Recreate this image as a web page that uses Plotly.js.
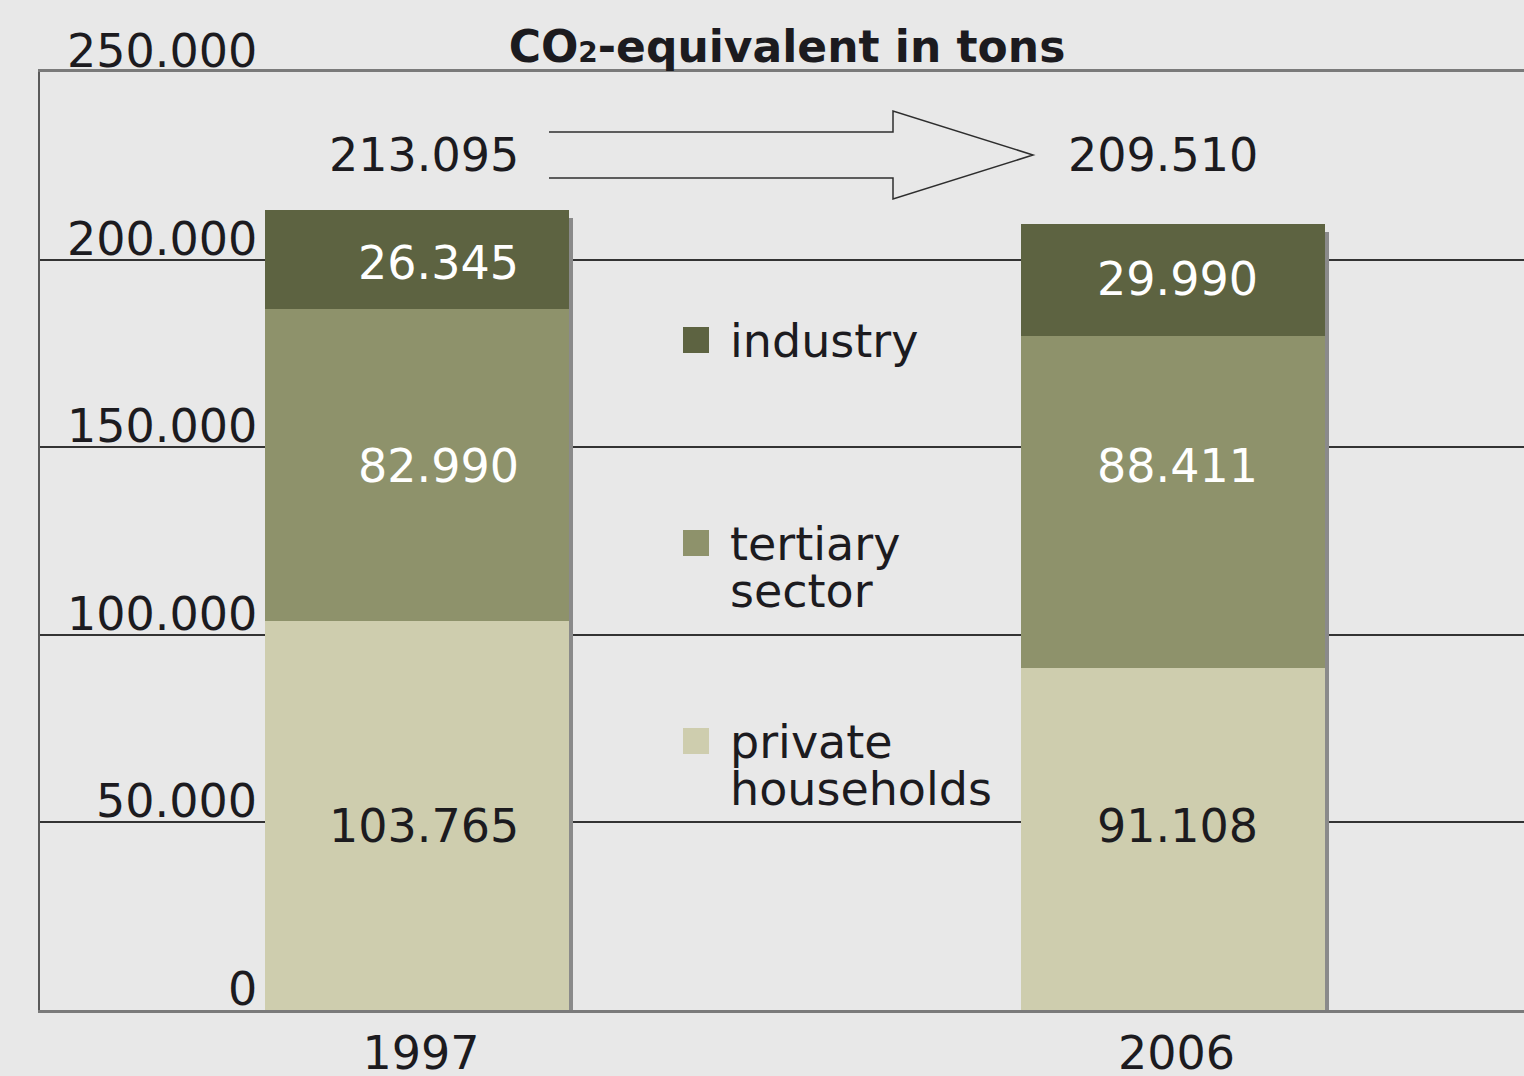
<!DOCTYPE html>
<html>
<head>
<meta charset="utf-8">
<script src="https://cdn.plot.ly/plotly-3.0.1.min.js"></script>
<style>
  html, body { margin: 0; padding: 0; background: #e8e8e8; }
  #chart { width: 1524px; height: 1076px; }
</style>
</head>
<body>
<div id="chart"></div>
<script>
// ---------------- data ----------------
const years = ['1997', '2006'];
const industry = [26345, 29990];
const tertiary = [82990, 88411];
const households = [103765, 91108];
const totals = [213095, 209510];
const seriesNames = ['private households', 'tertiary sector', 'industry'];
const tickVals = [0, 50000, 100000, 150000, 200000, 250000];
const tickLabels = ['0', '50.000', '100.000', '150.000', '200.000', '250.000'];
const legendLines = [['industry'], ['tertiary', 'sector'], ['private', 'households']];

// ---------------- layout constants ----------------
const W = 1524, H = 1076;
const M = { l: 40, r: 0, t: 72, b: 66 };
const plotW = W - M.l - M.r, plotH = H - M.t - M.b;
const yMax = 250000;
const unitPx = 755.5;            // px between category centres
const firstCentrePx = 417;       // px of first category centre
const barW = 304 / unitPx;
const x2Range = [(M.l - firstCentrePx) / unitPx, (M.l + plotW - firstCentrePx) / unitPx];
const shadowDx = 4 / unitPx, shadowDy = 8 / plotH * yMax;

const C = {
  industry: '#5d6341', tertiary: '#8e926b', households: '#cecdae',
  shadow: '#8a8a8a', text: '#1c1b1f', bg: '#e8e8e8'
};
const FONT = 'DejaVu Sans';
const fmt = v => String(v).replace(/\B(?=(\d{3})+(?!\d))/g, '.');
const pxX = px => (px - M.l) / plotW;
const pxY = py => (M.t + plotH - py) / plotH;

// ---------------- traces ----------------
const traces = [
  { type: 'bar', x: years, y: totals, xaxis: 'x', yaxis: 'y', width: barW,
    marker: { color: C.shadow, line: { width: 0 } }, hoverinfo: 'skip', showlegend: false },
  { type: 'bar', name: seriesNames[0], x: years, y: households, xaxis: 'x2', yaxis: 'y2', width: barW,
    marker: { color: C.households, line: { width: 0 } }, showlegend: false },
  { type: 'bar', name: seriesNames[1], x: years, y: tertiary, xaxis: 'x2', yaxis: 'y2', width: barW,
    marker: { color: C.tertiary, line: { width: 0 } }, showlegend: false },
  { type: 'bar', name: seriesNames[2], x: years, y: industry, xaxis: 'x2', yaxis: 'y2', width: barW,
    marker: { color: C.industry, line: { width: 0 } }, showlegend: false }
];

// ---------------- annotations ----------------
const annotations = [];
const f46 = (color) => ({ family: FONT, size: 46, color: color || C.text });

tickVals.forEach((v, i) => annotations.push({
  xref: 'paper', x: pxX(259), xanchor: 'right',
  yref: 'y2', y: v, yanchor: 'middle', yshift: 21,
  text: tickLabels[i], showarrow: false, font: f46()
}));

// value labels (rows in px, right edges in px)
const rightPx = [521, 1260];
const rows = [
  { vals: industry, py: [263, 279], color: '#ffffff' },
  { vals: tertiary, py: [466, 466], color: '#ffffff' },
  { vals: households, py: [826, 826], color: C.text },
  { vals: totals, py: [155, 155], color: C.text }
];
rows.forEach(r => r.vals.forEach((v, i) => annotations.push({
  xref: 'paper', x: pxX(rightPx[i]), xanchor: 'right',
  yref: 'paper', y: pxY(r.py[i]), yanchor: 'middle',
  text: fmt(v), showarrow: false, font: f46(r.color)
})));

// legend
const legendColors = [C.industry, C.tertiary, C.households];
const legendTopPx = [341, 544, 742];
const lineGap = 47;
const shapes = [];
legendLines.forEach((lines, k) => {
  lines.forEach((t, j) => annotations.push({
    xref: 'paper', x: pxX(728), xanchor: 'left',
    yref: 'paper', y: pxY(legendTopPx[k] + j * lineGap), yanchor: 'middle',
    text: t, showarrow: false, font: f46()
  }));
  const cy = legendTopPx[k] - 1;
  shapes.push({
    type: 'rect', xref: 'paper', yref: 'paper',
    x0: pxX(683), x1: pxX(709), y0: pxY(cy + 13), y1: pxY(cy - 13),
    fillcolor: legendColors[k], line: { width: 0 }
  });
});

// arrow
const arrowPts = [[549, 132], [893, 132], [893, 111], [1033, 155], [893, 199], [893, 178], [549, 178]];
shapes.push({
  type: 'path', xref: 'paper', yref: 'paper',
  path: arrowPts.map((p, i) => (i ? 'L' : 'M') + pxX(p[0]).toFixed(5) + ',' + pxY(p[1]).toFixed(5)).join(' '),
  line: { color: '#2e2e2e', width: 1.5 }, fillcolor: 'rgba(0,0,0,0)'
});

// ---------------- layout ----------------
const layout = {
  width: W, height: H, margin: M,
  paper_bgcolor: C.bg, plot_bgcolor: C.bg,
  barmode: 'stack', bargap: 0,
  showlegend: false,
  title: {
    text: 'CO<span style="font-size:28px">2</span>-equivalent in tons',
    font: { family: FONT, size: 44, color: C.text, weight: 'bold' },
    xref: 'container', x: 787 / W, xanchor: 'center',
    yref: 'container', y: 1 - 47 / H, yanchor: 'middle'
  },
  xaxis: {
    type: 'category', range: [x2Range[0] - shadowDx, x2Range[1] - shadowDx],
    showline: true, mirror: true, linecolor: '#7a7a7a', linewidth: 3,
    showgrid: false, zeroline: false, ticks: '',
    tickfont: f46(), ticklabelstandoff: 1, automargin: false, fixedrange: true
  },
  yaxis: {
    range: [shadowDy, yMax + shadowDy],
    showline: true, linecolor: '#5a5a5a', linewidth: 2,
    showgrid: false, zeroline: false, showticklabels: false, ticks: '', automargin: false, fixedrange: true
  },
  xaxis2: {
    type: 'category', overlaying: 'x', range: x2Range, visible: false, fixedrange: true
  },
  yaxis2: {
    overlaying: 'y', range: [0, yMax], tickmode: 'array', tickvals: tickVals.slice(1, 5),
    showgrid: true, gridcolor: '#333333', gridwidth: 2,
    showticklabels: false, showline: false, zeroline: false, ticks: '', automargin: false, fixedrange: true
  },
  annotations: annotations,
  shapes: shapes
};

Plotly.newPlot('chart', traces, layout, { displayModeBar: false, staticPlot: true });
</script>
</body>
</html>
